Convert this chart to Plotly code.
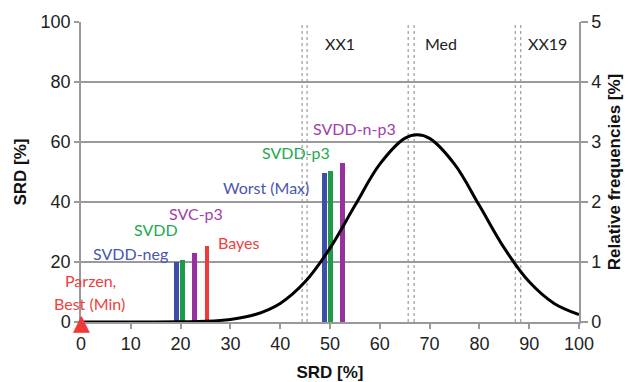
import plotly.graph_objects as go

# Classifier results: SRD position (x) and SRD value (bar height)
bar_names = ["SVDD-neg", "SVDD", "SVC-p3", "Bayes", "Worst (Max)", "SVDD-p3", "SVDD-n-p3"]
bar_x = [19.1, 20.4, 22.7, 25.3, 48.9, 50.1, 52.5]
bar_y = [20.0, 20.6, 23.0, 25.5, 49.6, 50.4, 52.9]
bar_colors = ["#3f4fa8", "#1e9a48", "#9532a0", "#f03a3a", "#3f4fa8", "#1e9a48", "#9532a0"]

# Label placement for each classifier
label_text = ["SVDD-neg", "SVDD", "SVC-p3", "Bayes", "Worst (Max)", "SVDD-p3", "SVDD-n-p3",
              "Parzen,", "Best (Min)"]
label_x = [9.9, 15.1, 23.0, 31.7, 37.1, 43.1, 55.0, 1.9, 1.8]
label_y = [22.7, 30.7, 36.3, 26.4, 44.9, 56.6, 64.6, 14.0, 6.3]
label_colors = ["#4a55b0", "#25a850", "#a23ea8", "#f04040", "#4a55b0", "#25a850", "#a23ea8",
                "#f04040", "#f04040"]

# Best result marker (SRD = 0)
best_x = 0
best_y = 0

# Relative frequency distribution of SRD [%]
dist_x = [0, 5, 10, 15, 20, 25, 30, 35, 40, 45, 50, 55, 60, 65, 67.5, 70, 75, 80, 85, 90, 95, 100]
dist_y = [0.0, 0.0, 0.0, 0.0, 0.005, 0.012, 0.043, 0.125, 0.31, 0.67, 1.23, 1.94, 2.63, 3.06, 3.12,
          3.06, 2.63, 1.94, 1.23, 0.67, 0.31, 0.125]

# Region boundaries (pairs of dotted lines) and region names
boundary_x = [44.4, 45.4, 65.7, 66.9, 87.2, 88.3]
region_names = ["XX1", "Med", "XX19"]
region_x = [52.1, 72.2, 93.7]
region_y = [93, 93, 93]

fig = go.Figure()

# dotted region boundaries
bx, by = [], []
for b in boundary_x:
    bx += [b, b, None]
    by += [0, 100, None]
fig.add_trace(go.Scatter(x=bx, y=by, mode="lines",
                         line=dict(color="#9a9a9a", width=1.2, dash="dot"),
                         hoverinfo="skip", showlegend=False))

# classifier bars
fig.add_trace(go.Bar(x=bar_x, y=bar_y, width=[1.0] * len(bar_x),
                     marker=dict(color=bar_colors, line=dict(width=0)),
                     showlegend=False))

# distribution curve on secondary axis
fig.add_trace(go.Scatter(x=dist_x, y=dist_y, mode="lines", yaxis="y2",
                         line=dict(color="black", width=3, shape="spline", smoothing=1.0),
                         showlegend=False))

# best marker: a triangle glyph anchored at the origin so it overhangs the axes
fig.add_annotation(x=best_x, y=best_y, xref="x", yref="y", text="▲", showarrow=False,
                   xanchor="center", yanchor="middle", yshift=0,
                   font=dict(family="DejaVu Sans", size=22, color="#f03a3a"))

# classifier labels
for t, x, y, c in zip(label_text, label_x, label_y, label_colors):
    fig.add_annotation(x=x, y=y, text=t, showarrow=False, xref="x", yref="y",
                       font=dict(family="Lato", size=16, color=c))

# region labels
for t, x, y in zip(region_names, region_x, region_y):
    fig.add_annotation(x=x, y=y, text=t, showarrow=False, xref="x", yref="y",
                       font=dict(family="Lato", size=16, color="#222222"))

axis_col = "#9a9a9a"
tick_font = dict(family="Liberation Sans", size=18, color="#222222")
title_font = dict(family="Liberation Sans", size=17, color="#111111")

fig.update_layout(
    width=635, height=382,
    margin=dict(l=81, r=56, t=22, b=60, autoexpand=False),
    paper_bgcolor="white", plot_bgcolor="white",
    barmode="overlay", bargap=0,
    xaxis=dict(range=[0, 100], tickvals=list(range(0, 101, 10)), showgrid=False,
               showline=True, linecolor=axis_col, linewidth=1.5, automargin=False,
               ticks="outside", ticklen=5, tickcolor=axis_col, tickwidth=1.5,
               tickfont=tick_font, zeroline=False,
               title=dict(text="<b>SRD [%]</b>", font=title_font, standoff=14)),
    yaxis=dict(range=[0, 100], tickvals=list(range(0, 101, 20)), showgrid=True,
               gridcolor=axis_col, gridwidth=1.5, automargin=False,
               showline=True, linecolor=axis_col, linewidth=1.5,
               ticks="outside", ticklen=5, tickcolor=axis_col, tickwidth=1.5,
               tickfont=tick_font, zeroline=False,
               title=dict(text="<b>SRD [%]</b>", font=title_font, standoff=10)),
    yaxis2=dict(range=[0, 5], tickvals=list(range(0, 6)), overlaying="y", side="right",
                showgrid=False, showline=True, linecolor=axis_col, linewidth=1.5,
                automargin=False,
                ticks="outside", ticklen=7, tickcolor=axis_col, tickwidth=1.5,
                tickfont=tick_font, zeroline=False,
                title=dict(text="<b>Relative frequencies [%]</b>", font=title_font, standoff=8)),
)

fig.write_html("out.html")
